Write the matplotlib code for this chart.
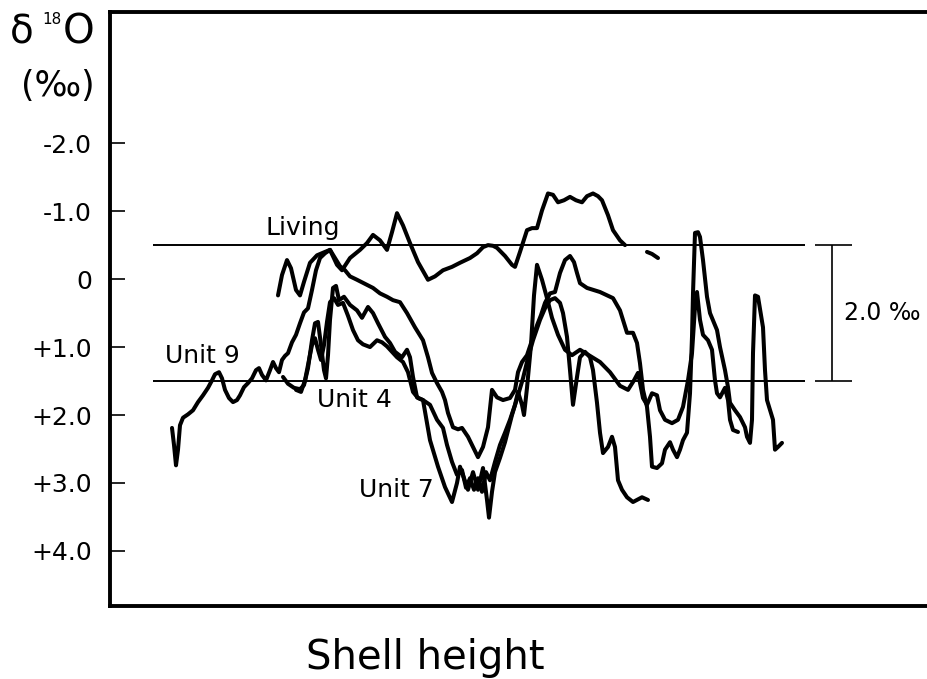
import numpy as np
import matplotlib.pyplot as plt

plt.rcParams['font.family'] = 'DejaVu Sans'

# Shell height (arbitrary units) and d18O (per mil) along each shell
living_x = [16.8, 17.2, 17.7, 18.1, 18.6, 19.0, 19.4, 20.0, 20.7, 21.5, 22.0, 22.7, 23.2, 24.0,
            25.0, 25.7, 26.3, 27.0, 27.7, 28.2, 28.7, 29.3, 30.0, 30.8, 31.8, 32.5, 33.3, 34.2,
            35.0, 36.0, 36.7, 37.3, 37.8, 38.3, 38.7, 39.5, 40.2, 40.5, 41.0, 41.7, 42.2, 42.7,
            43.2, 43.8, 44.3, 44.8, 45.4, 46.0, 46.6, 47.2, 47.7, 48.3, 48.8, 49.2, 49.8, 50.3,
            51.0, 51.5, np.nan, 53.7, 54.2, 54.8]
living_y = [0.24, -0.06, -0.28, -0.16, 0.16, 0.24, 0.04, -0.24, -0.35, -0.40, -0.43, -0.21, -0.13, -0.31,
            -0.43, -0.53, -0.65, -0.57, -0.43, -0.69, -0.97, -0.79, -0.53, -0.25, 0.01, -0.04, -0.13, -0.18,
            -0.24, -0.31, -0.38, -0.47, -0.50, -0.49, -0.46, -0.34, -0.21, -0.18, -0.40, -0.72, -0.75, -0.75,
            -1.01, -1.26, -1.24, -1.13, -1.16, -1.21, -1.16, -1.13, -1.22, -1.26, -1.22, -1.16, -0.94, -0.72,
            -0.57, -0.50, np.nan, -0.40, -0.37, -0.31]

unit9_x = [6.2, 6.4, 6.6, 6.8, 7.0, 7.3, 7.8, 8.3, 8.8, 9.3, 9.8, 10.2, 10.5, 10.9, 11.2, 11.5, 11.9,
           12.3, 12.7, 13.0, 13.4, 13.8, 14.2, 14.6, 14.9, 15.2, 15.6, 16.0, 16.3, 16.6, 16.9, 17.2,
           17.5, 17.8, 18.2, 18.6, 19.0, 19.4, 19.8, 20.2, 20.6, 21.0, 21.5, 22.0, 22.5, 23.0, 23.5,
           24.0, 24.7, 25.5, 26.3, 27.0, 27.7, 28.3, 29.0, 29.7, 30.5, 31.3, 31.8, 32.2, 32.7, 33.2,
           33.5, 33.8, 34.3, 34.8, 35.2, 35.8, 36.3, 36.8, 37.3, 37.8, 38.2, 38.7, 39.3, 40.0, 40.5,
           40.8, 41.2, 41.7, 42.2, 42.7, 43.1, 43.5, 44.0, 44.5, 45.0, 45.5, 46.0, 46.4, 46.7, 47.0,
           47.7, 49.0, 50.3, 51.0, 51.7, 52.3, 52.7, 53.0, 53.3, 53.7, 54.0, 54.2, 54.7, 55.2, 55.5,
           56.0, 56.3, 56.7, 57.0, 57.3, 57.7, 58.0, 58.2, 58.3, 58.5, 58.8, 59.0, 59.3, 59.7, 60.0,
           60.7, 61.0, 61.5, 61.8, 62.0, 62.5, 63.0, 63.5, 63.7, 64.0, 64.2, 64.3, 64.5, 64.8, 65.3,
           65.5, 65.7, 66.3, 66.5, 66.8, 67.2]
unit9_y = [2.19, 2.44, 2.74, 2.51, 2.15, 2.04, 1.99, 1.93, 1.81, 1.71, 1.60, 1.49, 1.40, 1.37, 1.46, 1.63, 1.75,
           1.81, 1.78, 1.71, 1.59, 1.53, 1.46, 1.34, 1.31, 1.41, 1.49, 1.34, 1.22, 1.31, 1.37, 1.19,
           1.13, 1.09, 0.93, 0.82, 0.65, 0.49, 0.43, 0.16, -0.13, -0.31, -0.38, -0.43, -0.31, -0.19, -0.13,
           -0.04, 0.01, 0.07, 0.13, 0.21, 0.26, 0.31, 0.34, 0.50, 0.71, 0.90, 1.15, 1.38, 1.53, 1.66,
           1.78, 1.97, 2.18, 2.21, 2.19, 2.32, 2.47, 2.62, 2.47, 2.18, 1.63, 1.74, 1.78, 1.75, 1.63,
           1.37, 1.22, 1.12, 0.90, 0.68, 0.53, 0.35, 0.21, 0.19, -0.09, -0.28, -0.34, -0.25, -0.09, 0.06,
           0.13, 0.19, 0.28, 0.46, 0.79, 0.79, 0.94, 1.24, 1.63, 1.88, 2.32, 2.76, 2.78, 2.71, 2.51,
           2.40, 2.51, 2.62, 2.51, 2.37, 2.26, 1.68, 0.85, 0.21, -0.68, -0.69, -0.62, -0.28, 0.26, 0.50,
           0.75, 1.00, 1.34, 1.59, 1.82, 1.93, 2.03, 2.18, 2.32, 2.41, 2.07, 1.09, 0.24, 0.26, 0.71,
           1.34, 1.78, 2.07, 2.51, 2.47, 2.41]

unit4_x = [17.3, 17.8, 18.4, 19.0, 19.4, 19.8, 20.2, 20.5, 20.8, 21.1, 21.4, 21.6, 21.8, 22.0, 22.3,
           22.6, 22.9, 23.4, 24.0, 24.7, 25.2, 25.8, 26.3, 26.8, 27.5, 28.0, 28.5, 29.2, 29.7, 30.0,
           30.3, 30.7, 31.3, 32.0, 32.7, 33.3, 33.7, 34.2, 34.7, 35.2, 35.6, 36.0, 36.4, 36.8, 37.2,
           37.6, 38.0, 38.5, 39.0, 39.5, 40.0, 40.5, 40.8, 41.2, 41.4, 41.7, 42.1, 42.4, 42.7, 43.2,
           43.7, 44.2, 44.8, 45.5, 46.2, 47.0, 48.0, 49.0, 50.0, 51.0, 51.8, 52.4, 52.8, 53.3, 53.7,
           54.2, 54.7, 55.0, 55.5, 56.2, 56.8, 57.3, 57.8, 58.2, 58.5, 58.7, 59.0, 59.3, 59.8, 60.2,
           60.5, 60.7, 61.0, 61.5, 61.8, 62.0, 62.3, 62.8]
unit4_y = [1.44, 1.54, 1.60, 1.62, 1.56, 1.31, 0.90, 0.65, 0.63, 0.97, 1.34, 1.46, 1.12, 0.60, 0.13,
           0.10, 0.31, 0.26, 0.38, 0.46, 0.57, 0.41, 0.50, 0.65, 0.85, 0.94, 1.07, 1.15, 1.04, 1.15,
           1.44, 1.74, 1.78, 1.85, 2.07, 2.19, 2.44, 2.69, 2.88, 2.81, 3.07, 2.93, 3.10, 2.93, 3.13,
           2.84, 2.96, 2.69, 2.44, 2.26, 2.07, 1.85, 1.66, 1.85, 2.00, 1.60, 0.97, 0.24, -0.21, 0.01,
           0.28, 0.57, 0.82, 1.04, 1.12, 1.04, 1.13, 1.22, 1.37, 1.57, 1.63, 1.49, 1.38, 1.75, 1.85,
           1.68, 1.71, 1.93, 2.07, 2.12, 2.07, 1.88, 1.49, 1.09, 0.41, 0.19, 0.60, 0.82, 0.90, 1.04,
           1.49, 1.68, 1.74, 1.60, 1.78, 2.07, 2.22, 2.25]

unit7_x = [18.6, 19.1, 19.5, 19.9, 20.2, 20.5, 20.8, 21.1, 21.4, 21.7, 22.0, 22.4, 22.8, 23.3, 23.8,
           24.3, 24.8, 25.3, 26.0, 26.7, 27.2, 27.7, 28.2, 28.7, 29.3, 29.8, 30.3, 30.8, 31.3, 32.0,
           32.8, 33.5, 34.2, 34.7, 35.0, 35.4, 35.8, 36.3, 36.8, 37.3, 37.7, 37.9, 38.2, 38.5, 39.0,
           39.5, 40.2, 40.8, 41.3, 41.8, 42.3, 43.0, 43.5, 44.0, 44.5, 45.0, 45.3, 45.7, 46.0, 46.3,
           46.7, 47.0, 47.5, 48.0, 48.3, 48.7, 49.0, 49.3, 49.8, 50.2, 50.5, 50.8, 51.2, 51.7, 52.3,
           53.2, 53.8]
unit7_y = [1.63, 1.66, 1.49, 1.19, 0.97, 0.87, 1.04, 1.19, 0.97, 0.63, 0.34, 0.28, 0.38, 0.35, 0.54,
           0.75, 0.90, 0.96, 1.00, 0.90, 0.93, 0.99, 1.07, 1.15, 1.22, 1.37, 1.66, 1.75, 1.78, 2.37,
           2.76, 3.06, 3.28, 3.00, 2.76, 2.93, 3.10, 2.84, 3.10, 2.78, 3.25, 3.51, 3.13, 2.84, 2.63,
           2.40, 2.00, 1.71, 1.46, 1.16, 0.90, 0.60, 0.43, 0.31, 0.28, 0.35, 0.50, 0.85, 1.34, 1.85,
           1.44, 1.15, 1.07, 1.15, 1.34, 1.82, 2.26, 2.56, 2.47, 2.32, 2.47, 2.96, 3.10, 3.21, 3.28,
           3.21, 3.25]

yticks = [-2, -1, 0, 1, 2, 3, 4]
ytick_labels = ['-2.0', '-1.0', '0', '+1.0', '+2.0', '+3.0', '+4.0']
living_level = -0.5
fossil_level = 1.5

fig = plt.figure(figsize=(9.27, 6.79), dpi=100)
ax = fig.add_axes([110 / 927, 1 - 606 / 679, 1 - 110 / 927, 594 / 679])

for xs, ys in [(living_x, living_y), (unit9_x, unit9_y), (unit4_x, unit4_y), (unit7_x, unit7_y)]:
    ax.plot(xs, ys, color='black', lw=2.9, solid_joinstyle='round', solid_capstyle='round')

# reference levels and the 2 per mil scale bar
ax.hlines([living_level, fossil_level], 4.3, 69.5, color='black', lw=1.4)
ax.hlines([living_level, fossil_level], 70.5, 74.2, color='black', lw=1.2)
ax.vlines(72.2, living_level, fossil_level, color='black', lw=1.2)
ax.text(73.4, (living_level + fossil_level) / 2, '2.0 ‰', fontsize=17, va='center', ha='left')

ax.text(19.3, -0.65, 'Living', fontsize=18, ha='center', va='baseline')
ax.text(9.2, 1.24, 'Unit 9', fontsize=18, ha='center', va='baseline')
ax.text(24.4, 1.88, 'Unit 4', fontsize=18, ha='center', va='baseline')
ax.text(28.6, 3.21, 'Unit 7', fontsize=18, ha='center', va='baseline')

ax.set_xlim(0, 81.7)
ax.set_ylim(4.81, -3.93)
ax.set_xticks([])
ax.set_yticks(yticks)
ax.set_yticklabels(ytick_labels)
ax.tick_params(axis='y', direction='in', length=11, width=1.2, pad=13, labelsize=18)
for side in ['left', 'top', 'bottom']:
    ax.spines[side].set_linewidth(2.8)
ax.spines['right'].set_visible(False)

fig.text(10 / 927, 1 - 33 / 679, 'δ', fontsize=28, ha='left', va='center')
fig.text(42 / 927, 1 - 19 / 679, '18', fontsize=11, ha='left', va='center')
fig.text(63 / 927, 1 - 33 / 679, 'O', fontsize=29, ha='left', va='center')
fig.text(58 / 927, 1 - 86 / 679, '(‰)', fontsize=25, ha='center', va='center')
fig.text(425 / 927, 1 - 658 / 679, 'Shell height', fontsize=29, ha='center', va='center')

fig.savefig('out.png', dpi=100)
